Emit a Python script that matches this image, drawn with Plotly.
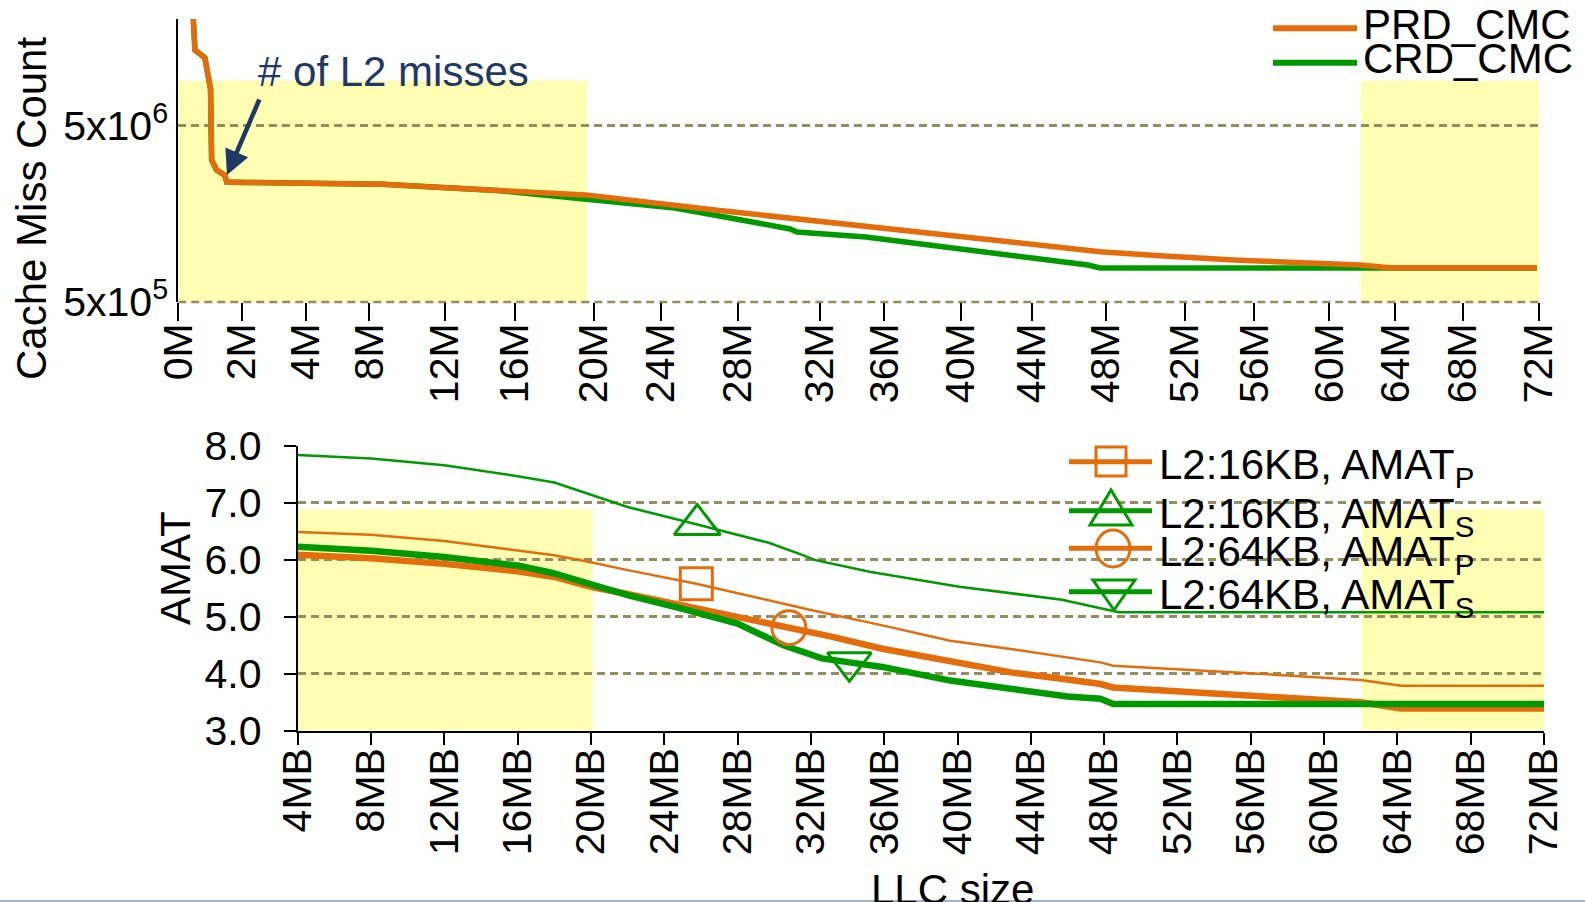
import math
import plotly.graph_objects as go

W, H = 1585, 902
FONT = "Arial, Liberation Sans, sans-serif"
ORANGE = "#E46C0A"
GREEN = "#009A00"
YELLOW = "#FFFFB3"
GRID = "#968C5E"
NAVY = "#1F3864"

# ---------------- top panel: cache miss count ----------------
cmc_tick_text = ["0M", "2M", "4M", "8M", "12M", "16M", "20M", "24M", "28M", "32M",
                 "36M", "40M", "44M", "48M", "52M", "56M", "60M", "64M", "68M", "72M"]
cmc_tick_pos = [-2.53, 0.93, 4.44, 7.9, 12.0, 15.85, 20.16, 23.8, 28.0, 32.5,
                36.0, 40.2, 44.06, 48.1, 52.4, 56.2, 60.3, 63.9, 67.6, 71.74]

prd_pos = [-1.73, -1.62, -1.08, -0.77, -0.71, -0.44, 0.0, 0.11, 1.1, 8.6, 14.9,
           18.3, 19.7, 26.65, 35.0, 43.36, 47.34, 47.78, 51.05, 55.04, 61.97, 63.6, 71.63]
prd_cmc = [2.2e7, 1.35e7, 1.22e7, 8.1e6, 3.2e6, 2.81e6, 2.63e6, 2.40e6, 2.39e6, 2.33e6, 2.15e6,
           2.06e6, 2.03e6, 1.67e6, 1.35e6, 1.10e6, 9.87e5, 9.66e5, 9.16e5, 8.67e5, 8.11e5, 7.83e5, 7.83e5]

crd_pos = [-1.73, -1.62, -1.08, -0.77, -0.71, -0.44, 0.0, 0.11, 1.1, 8.6, 14.9,
           18.3, 19.7, 24.58, 28.73, 30.86, 31.24, 35.0, 39.2, 43.36, 47.12, 47.78, 71.63]
crd_cmc = [2.2e7, 1.35e7, 1.22e7, 8.1e6, 3.2e6, 2.81e6, 2.63e6, 2.40e6, 2.39e6, 2.33e6, 2.15e6,
           1.98e6, 1.91e6, 1.71e6, 1.43e6, 1.30e6, 1.25e6, 1.17e6, 1.03e6, 9.12e5, 8.11e5, 7.8e5, 7.8e5]

cmc_tickvals = [5e5, 5e6]
cmc_ticktext = ["5x10<sup>5</sup>", "5x10<sup>6</sup>"]

# ---------------- bottom panel: AMAT vs LLC size ----------------
llc_ticks = list(range(4, 73, 4))
llc_tick_text = [f"{v}MB" for v in llc_ticks]
amat_ticks = [3.0, 4.0, 5.0, 6.0, 7.0, 8.0]

p16_mb = [4, 8, 12, 16, 18, 20, 22, 25.75, 28, 30.5, 32, 35.9, 39.6, 43, 45.5, 47.8, 48.5,
          52, 55, 58, 62, 64.2, 72]
p16_amat = [6.49, 6.44, 6.33, 6.17, 6.08, 5.96, 5.82, 5.58, 5.41, 5.23, 5.12, 4.85, 4.58, 4.43,
            4.31, 4.20, 4.14, 4.08, 4.03, 3.97, 3.89, 3.79, 3.79]

s16_mb = [4, 8, 12, 16, 18, 20, 22, 25.8, 29.7, 31.6, 32.2, 35.2, 40.1, 45.7, 48.4, 48.8, 72]
s16_amat = [7.84, 7.78, 7.66, 7.47, 7.36, 7.15, 6.93, 6.62, 6.30, 6.08, 6.00, 5.79, 5.53, 5.30,
            5.12, 5.08, 5.08]

p64_mb = [4, 8, 12, 16, 18, 20.1, 22, 25, 28, 30.8, 33, 35.9, 39.6, 43, 46, 47.8, 48.5,
          52, 55, 58, 62, 64.2, 72]
p64_amat = [6.09, 6.03, 5.93, 5.80, 5.70, 5.52, 5.40, 5.20, 5.00, 4.81, 4.66, 4.44, 4.21, 4.02,
            3.90, 3.82, 3.76, 3.69, 3.62, 3.56, 3.50, 3.39, 3.39]

s64_mb = [4, 8, 12, 16, 17.9, 20.1, 22, 25, 28, 30.5, 31.9, 32.6, 34.1, 35.9, 39.6, 43, 46,
          47.8, 48.5, 72]
s64_amat = [6.23, 6.16, 6.05, 5.90, 5.77, 5.55, 5.38, 5.14, 4.88, 4.50, 4.33, 4.27, 4.20, 4.12,
            3.88, 3.72, 3.60, 3.56, 3.47, 3.47]

# which sample of each series carries its marker
p16_mark, s16_mark, p64_mark, s64_mark = 7, 7, 9, 12

# shaded cache-size bands
cmc_bands = [(-2.53, 19.78), (62.02, 71.74)]
amat_bands = [(4, 20.1), (62.05, 72)]
amat_band_top = 6.89


def px(x):
    return x / W


def py(y):
    return 1 - y / H


fig = go.Figure()

# top panel curves
fig.add_trace(go.Scatter(x=crd_pos, y=crd_cmc, mode="lines", line=dict(color=GREEN, width=5.5),
                         xaxis="x", yaxis="y", showlegend=False))
fig.add_trace(go.Scatter(x=prd_pos, y=prd_cmc, mode="lines", line=dict(color=ORANGE, width=5.5),
                         xaxis="x", yaxis="y", showlegend=False))

# bottom panel curves
series = [
    (p16_mb, p16_amat, ORANGE, 2.5, "square-open", 32, p16_mark),
    (s16_mb, s16_amat, GREEN, 2.5, "triangle-up-open", 40, s16_mark),
    (p64_mb, p64_amat, ORANGE, 6.5, "circle-open", 34, p64_mark),
    (s64_mb, s64_amat, GREEN, 6.5, "triangle-down-open", 38, s64_mark),
]
for xs, ys, col, lw, sym, msz, mi in series:
    fig.add_trace(go.Scatter(x=xs, y=ys, mode="lines", line=dict(color=col, width=lw),
                             xaxis="x2", yaxis="y2", showlegend=False))
for xs, ys, col, lw, sym, msz, mi in series:
    fig.add_trace(go.Scatter(x=[xs[mi]], y=[ys[mi]], mode="markers",
                             marker=dict(symbol=sym, size=msz, color=col, line=dict(width=3, color=col)),
                             xaxis="x2", yaxis="y2", showlegend=False))

shapes = []
for x0, x1 in cmc_bands:
    shapes.append(dict(type="rect", xref="x", yref="paper", x0=x0, x1=x1,
                       y0=py(302), y1=py(80.7),
                       fillcolor=YELLOW, line=dict(width=0), layer="below"))
# dashed reference line along the bottom of the miss-count panel
shapes.append(dict(type="line", xref="x", yref="paper", x0=cmc_tick_pos[0], x1=cmc_tick_pos[-1],
                   y0=py(302), y1=py(302), line=dict(color=GRID, width=2.5, dash="8px,5px"),
                   layer="below"))
for x0, x1 in amat_bands:
    shapes.append(dict(type="rect", xref="x2", yref="y2", x0=x0, x1=x1, y0=amat_ticks[0], y1=amat_band_top,
                       fillcolor=YELLOW, line=dict(width=0), layer="below"))

annotations = []


def label(x, y, text, size=42, color="black", xanchor="left", angle=0):
    annotations.append(dict(x=px(x), y=py(y), xref="paper", yref="paper", text=text, showarrow=False,
                            xanchor=xanchor, yanchor="middle", textangle=angle,
                            font=dict(family=FONT, size=size, color=color)))


# top legend
for yy, col, name in [(28.3, ORANGE, "PRD_CMC"), (62.7, GREEN, "CRD_CMC")]:
    shapes.append(dict(type="line", xref="paper", yref="paper", x0=px(1273), x1=px(1357),
                       y0=py(yy), y1=py(yy), line=dict(color=col, width=6)))
    label(1361, yy - 4, name)

# bottom legend
leg_rows = [
    (461.7, ORANGE, "L2:16KB, AMAT<sub>P</sub>"),
    (510.7, GREEN, "L2:16KB, AMAT<sub>S</sub>"),
    (548.3, ORANGE, "L2:64KB, AMAT<sub>P</sub>"),
    (591.7, GREEN, "L2:64KB, AMAT<sub>S</sub>"),
]
for yy, col, name in leg_rows:
    shapes.append(dict(type="line", xref="paper", yref="paper", x0=px(1069), x1=px(1152),
                       y0=py(yy), y1=py(yy), line=dict(color=col, width=5)))
    label(1157, yy + 6, name)


def poly(pts, col):
    d = "M " + " L ".join(f"{px(a):.5f},{py(b):.5f}" for a, b in pts) + " Z"
    shapes.append(dict(type="path", xref="paper", yref="paper", path=d,
                       line=dict(color=col, width=3), fillcolor="rgba(0,0,0,0)"))


shapes.append(dict(type="rect", xref="paper", yref="paper", x0=px(1096), x1=px(1126),
                   y0=py(476), y1=py(447), line=dict(color=ORANGE, width=3)))
poly([(1090, 525), (1132, 525), (1111, 490)], GREEN)
shapes.append(dict(type="circle", xref="paper", yref="paper", x0=px(1096), x1=px(1130),
                   y0=py(567), y1=py(530), line=dict(color=ORANGE, width=3)))
poly([(1093, 580), (1135, 580), (1114, 610)], GREEN)

# axis titles
label(32, 209, "Cache Miss Count", angle=-90, xanchor="center")
label(175, 568, "AMAT", angle=-90, xanchor="center")
label(952, 889, "LLC size", xanchor="center")

# L2 miss callout
label(256, 71, "# of L2 misses", color=NAVY)
annotations.append(dict(x=px(227), y=py(175), xref="paper", yref="paper", ax=33, ay=-77,
                        showarrow=True, arrowhead=2, arrowsize=1.1, arrowwidth=4.5,
                        arrowcolor=NAVY, text=""))

# thin frame line along the bottom edge
shapes.append(dict(type="line", xref="paper", yref="paper", x0=0, x1=1, y0=py(901), y1=py(901),
                   line=dict(color="#9FB3D3", width=2)))

tickfont = dict(family=FONT, size=41, color="black")
fig.update_layout(
    width=W, height=H, margin=dict(l=0, r=0, t=0, b=0, autoexpand=False),
    paper_bgcolor="white", plot_bgcolor="rgba(0,0,0,0)",
    shapes=shapes, annotations=annotations,
    xaxis=dict(domain=[px(178.3), px(1539)], range=[cmc_tick_pos[0], cmc_tick_pos[-1]],
               tickmode="array", tickvals=cmc_tick_pos, ticktext=cmc_tick_text, tickangle=-90,
               ticks="outside", ticklen=18, tickwidth=2, tickcolor="black", tickfont=tickfont,
               ticklabelstandoff=-14,
               showline=False, showgrid=False, zeroline=False, anchor="y", automargin=False),
    yaxis=dict(domain=[py(302), py(19.3)], type="log", range=[math.log10(5e5), 7.305],
               tickmode="array", tickvals=cmc_tickvals, ticktext=cmc_ticktext, tickfont=tickfont,
               ticks="", showline=True, linecolor="black", linewidth=2,
               showgrid=True, gridcolor=GRID, gridwidth=2.5, griddash="8px,5px",
               zeroline=False, anchor="x", automargin=False),
    xaxis2=dict(domain=[px(297.7), px(1544)], range=[4, 72], tickmode="array", tickvals=llc_ticks,
                ticktext=llc_tick_text, tickangle=-90, ticks="outside", ticklen=12, tickwidth=2,
                tickcolor="black", tickfont=tickfont, showline=True, linecolor="black", linewidth=2,
                ticklabelstandoff=-13,
                showgrid=False, zeroline=False, anchor="y2", automargin=False),
    yaxis2=dict(domain=[py(730.7), py(446)], range=[3, 8], tickmode="array", tickvals=amat_ticks,
                ticktext=[f"{v:.1f}" for v in amat_ticks], ticks="outside", ticklen=12, tickwidth=2,
                tickcolor="black", tickfont=tickfont, showline=True, linecolor="black", linewidth=2,
                showgrid=True, gridcolor=GRID, gridwidth=2.5, griddash="8px,5px",
                ticklabelstandoff=14, zeroline=False, anchor="x2", automargin=False),
)

fig.write_html("out.html")
